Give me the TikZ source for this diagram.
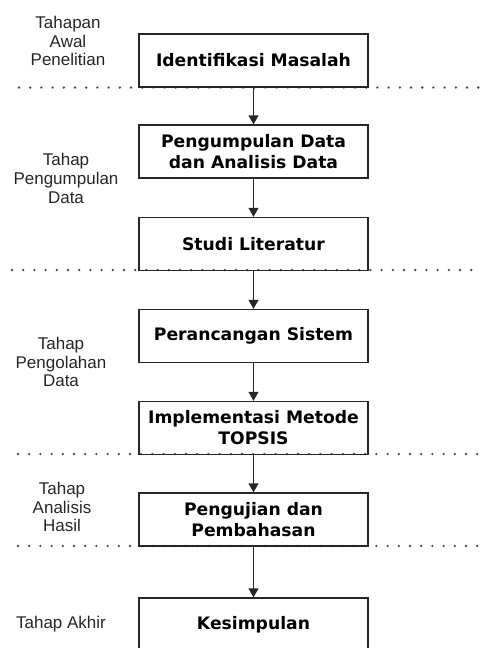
\documentclass[tikz,border=0pt]{standalone}
\usepackage{fontspec}
\setmainfont{Liberation Sans}
\newfontfamily\boxfont{DejaVu Sans}
\usetikzlibrary{arrows.meta}
\tikzset{
  stagebox/.style={draw=black!85, line width=1.4pt, minimum width=229pt, minimum height=53pt,
    inner sep=0pt, align=center, font=\boxfont\bfseries\fontsize{17.2}{21}\selectfont, text=black},
  stagelabel/.style={align=center, font=\fontsize{17}{18.7}\selectfont, text=black!85, inner sep=0pt},
  flow/.style={draw=black!85, line width=1.4pt, -{Triangle[width=10pt,length=9pt]}},
  divider/.style={draw=black!70, line width=2.6pt, line cap=round, dash pattern=on 0pt off 11.2pt}
}
\begin{document}
\begin{tikzpicture}[x=1pt,y=-1pt]
  \useasboundingbox (0,0) rectangle (480,648);
  \begin{scope}
    \clip (0,0) rectangle (480,648);

    % phase dividers
    \draw[divider] (19,87.5) -- (480,87.5);
    \draw[divider] (12,270) -- (480,270);
    \draw[divider] (18,454) -- (480,454);
    \draw[divider] (18,546) -- (480,546);

    % process steps
    \node[stagebox] (s1) at (253.5,60.5) {Identifikasi Masalah};
    \node[stagebox] (s2) at (253.5,151.5) {Pengumpulan Data\\dan Analisis Data};
    \node[stagebox] (s3) at (253.5,244) {Studi Literatur};
    \node[stagebox] (s4) at (253.5,336) {Perancangan Sistem};
    \node[stagebox] (s5) at (253.5,428) {Implementasi Metode\\TOPSIS};
    \node[stagebox] (s6) at (253.5,519.5) {Pengujian dan\\Pembahasan};
    \node[stagebox] (s7) at (253.5,624.5) {Kesimpulan};

    % flow between steps
    \draw[flow] (s1) -- (s2);
    \draw[flow] (s2) -- (s3);
    \draw[flow] (s3) -- (s4);
    \draw[flow] (s4) -- (s5);
    \draw[flow] (s5) -- (s6);
    \draw[flow] (s6) -- (s7);

    % phase names
    \node[stagelabel] (p1) at (68,41) {Tahapan\\Awal\\Penelitian};
    \node[stagelabel] (p2) at (66,178.5) {Tahap\\Pengumpulan\\Data};
    \node[stagelabel] (p3) at (61,362) {Tahap\\Pengolahan\\Data};
    \node[stagelabel] (p4) at (62,507) {Tahap\\Analisis\\Hasil};
    \node[stagelabel] (p5) at (61,624) {Tahap Akhir};
  \end{scope}
\end{tikzpicture}
\end{document}
